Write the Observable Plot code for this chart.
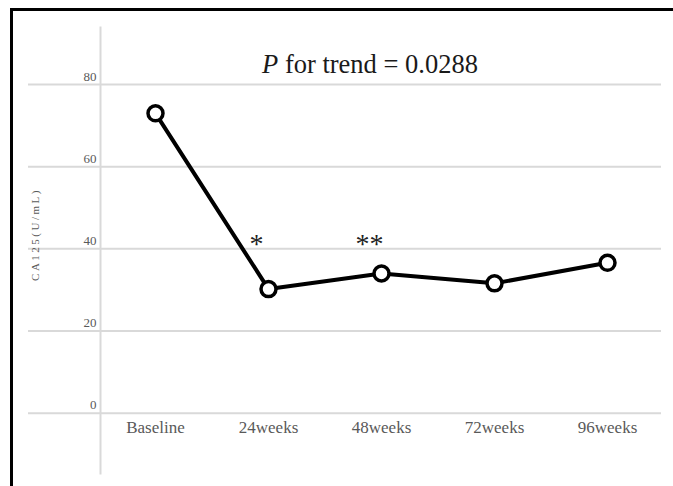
<!DOCTYPE html>
<html><head><meta charset="utf-8">
<script src="https://cdn.jsdelivr.net/npm/d3@7"></script>
<script src="https://cdn.jsdelivr.net/npm/@observablehq/plot@0.6"></script>
<style>
html,body{margin:0;padding:0;background:#fff;}
#wrap{position:relative;width:673px;height:486px;overflow:hidden;background:#fff;}
#wrap svg{position:absolute;left:0;top:0;}
#frame{position:absolute;left:10px;top:8px;width:700px;height:520px;border-top:3px solid #000;border-left:3px solid #000;pointer-events:none;}
</style></head><body><div id="wrap"></div>
<script>
const categories = ["Baseline", "24weeks", "48weeks", "72weeks", "96weeks"];
const values = [73.0, 30.2, 34.0, 31.6, 36.6];
const significance = ["", "*", "**", "", ""];
const yTicks = [0, 20, 40, 60, 80];
const yLabel = "CA125(U/mL)";
const titleItalic = "P";
const titleRest = " for trend = 0.0288";

const data = categories.map((c, i) => ({time: c, value: values[i], sig: significance[i]}));
const serif = "'Liberation Serif','Times New Roman',serif";
const grid = "#d9d9d9";
const tickColor = "#595959";

const chart = Plot.plot({
  width: 673, height: 486,
  marginLeft: 100, marginRight: 12, marginTop: 27, marginBottom: 13,
  style: {fontFamily: serif, background: "transparent"},
  x: {type: "point", domain: categories, padding: 0.48, axis: null},
  y: {domain: [-14.7, 93.9], axis: null},
  marks: [
    Plot.frame({anchor: "left", stroke: grid, strokeWidth: 2, strokeOpacity: 1}),
    Plot.ruleY(yTicks, {stroke: grid, strokeWidth: 2}),
    Plot.axisY(yTicks, {anchor: "left", tickSize: 72, tickFormat: () => "", stroke: grid, strokeWidth: 2, strokeOpacity: 1, label: null}),
    Plot.axisY(yTicks, {anchor: "left", tickSize: 0, tickPadding: 4, dy: -8, fill: tickColor, fontSize: 13, label: null}),
    Plot.text([yLabel], {frameAnchor: "left", textAnchor: "middle", dx: -65, dy: -16, rotate: -90, fill: tickColor, fontSize: 11}),
    Plot.text([titleItalic + titleRest], {frameAnchor: "top", textAnchor: "middle", dx: -11, dy: 45, lineAnchor: "bottom", fontSize: 26.5, fill: "#1a1a1a"}),
    Plot.text(categories, {x: d => d, y: 0, dy: 14, lineAnchor: "middle", fontSize: 17, fill: tickColor}),
    Plot.text(data.filter(d => d.sig), {x: "time", y: 40, text: "sig", dx: -12, dy: 4, lineAnchor: "bottom", fontSize: 28, fill: "#222"}),
    Plot.line(data, {x: "time", y: "value", stroke: "#000", strokeWidth: 4}),
    Plot.dot(data, {x: "time", y: "value", r: 7.5, fill: "#fff", stroke: "#000", strokeWidth: 3.5})
  ]
});

const wrap = document.getElementById("wrap");
wrap.appendChild(chart);
const fr = document.createElement("div");
fr.id = "frame";
wrap.appendChild(fr);

d3.select(chart).selectAll("text").each(function() {
  const t = d3.select(this);
  const s = t.text();
  if (s === yLabel) t.attr("letter-spacing", "2.5px");
  if (s === titleItalic + titleRest) {
    t.text(null).attr("font-family", serif);
    t.append("tspan").attr("font-style", "italic").attr("font-family", serif).text(titleItalic);
    t.append("tspan").attr("font-family", serif).style("white-space", "pre").text(titleRest);
  }
});
</script></body></html>
